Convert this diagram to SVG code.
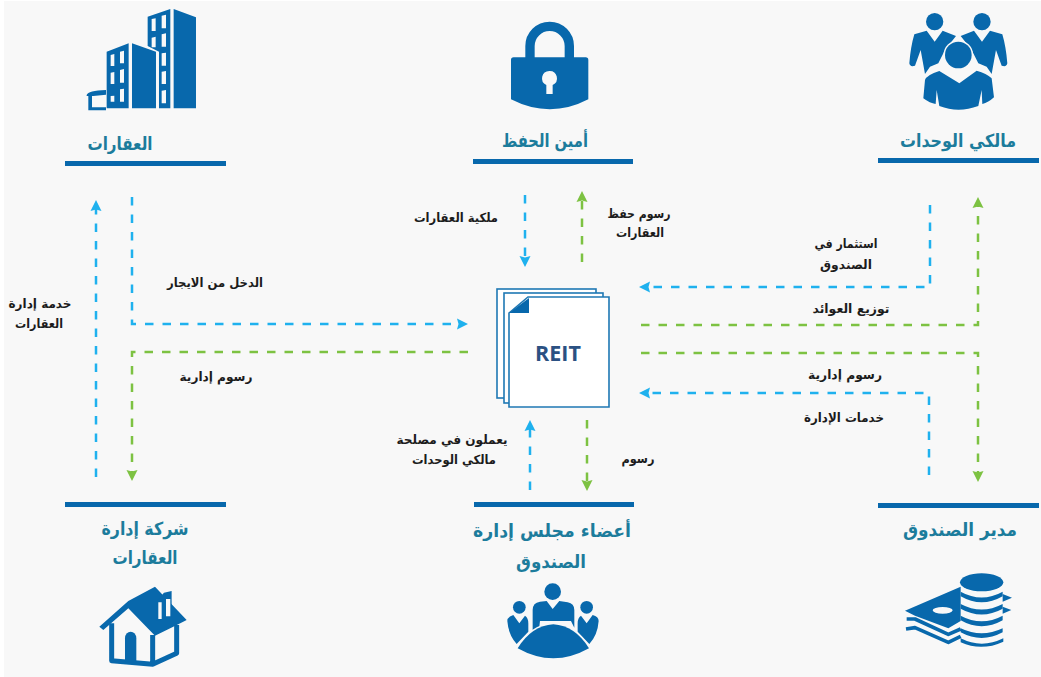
<svg xmlns="http://www.w3.org/2000/svg" width="1041" height="677" viewBox="0 0 1041 677">
<style>
.t{font-family:"DejaVu Sans","Noto Sans",sans-serif;font-weight:700;text-anchor:middle}
.title{font-size:18px;fill:#1c7c9c}
.lbl{font-size:12.5px;fill:#1c1c1c}
.bar{fill:#0868ac}
.ic{fill:#0868ac}
.cut{fill:#0868ac;stroke:#f8f8f8;stroke-width:9;paint-order:stroke}
.hole{fill:#f8f8f8}
.d{fill:none;stroke-width:2.5;stroke-dasharray:8.5 9}
.b{stroke:#1fb1ee}.g{stroke:#7dc242}
.mb{marker-end:url(#ab)}.mg{marker-end:url(#ag)}
.pg{fill:#fff;stroke:#1f78b4;stroke-width:1.6}
</style>
<defs>
<marker id="ab" markerUnits="userSpaceOnUse" markerWidth="13" markerHeight="13" refX="5" refY="6.5" orient="auto"><path d="M0,1 L11,6.5 L0,12 L1.5,6.5Z" fill="#1fb1ee"/></marker>
<marker id="ag" markerUnits="userSpaceOnUse" markerWidth="13" markerHeight="13" refX="5" refY="6.5" orient="auto"><path d="M0,1 L11,6.5 L0,12 L1.5,6.5Z" fill="#7dc242"/></marker>
</defs>
<rect width="1041" height="677" fill="#fff"/>
<rect x="4" y="1" width="1037" height="676" fill="#f8f8f8"/>

<g id="connectors">
<path class="d b mb" d="M96,477 V206"/>
<path class="d b mb" d="M132,197 V324 H462"/>
<path class="d g mg" d="M468,352 H132 V475"/>
<path class="d b mb" d="M525,195 V261"/>
<path class="d g mg" d="M582,262 V197"/>
<path class="d b mb" d="M530,490 V426"/>
<path class="d g mg" d="M587,420 V485"/>
<path class="d b mb" d="M930,205 V287 H645"/>
<path class="d g mg" d="M641,325 H978 V203"/>
<path class="d g mg" d="M641,353 H978 V476"/>
<path class="d b mb" d="M929,475 V393 H645"/>
</g>

<g id="reit">
<rect class="pg" x="497" y="289" width="99" height="109"/>
<rect class="pg" x="504" y="293" width="99" height="110"/>
<path class="pg" d="M528,297 H609 V407 H509 V313Z"/>
<path d="M509,313 L529,298 V313Z" fill="#0868ac"/>
<text x="558" y="361" font-family="'Open Sans',sans-serif" font-weight="700" font-size="21.5" fill="#2b5183" text-anchor="middle">REIT</text>
</g>

<g id="properties">
<g transform="translate(60,0) scale(.3333)">
<path class="ic" d="M341,27 L408,52 V325 H341Z M216,130 L288,155 V325 H216Z"/>
<path class="ic" fill-rule="evenodd" d="M263,50 L331,27 V325 H297 V155 L263,138Z M275,57 V93 H287 V55Z M305,47 V85 H318 V44Z M275,113 V142 H287 V110Z M305,103 V140 H318 V100Z M305,160 V197 H318 V158Z M305,215 V252 H318 V213Z M305,272 V310 H318 V270Z"/>
<path class="ic" fill-rule="evenodd" d="M140,155 L206,130 V325 H140Z M152,165 V198 H163 V162Z M180,155 V190 H192 V152Z M152,218 V252 H163 V216Z M180,210 V248 H192 V207Z M152,288 V305 H163 V287Z M180,268 V305 H192 V266Z"/>
<path class="ic" d="M80,285 Q84,272 138,270 V284 L100,288 H96 V322 H138 V331 H85 V288 L80,288Z"/>
</g>
<text class="t title" x="120" y="150" textLength="65" lengthAdjust="spacingAndGlyphs">العقارات</text>
<rect class="bar" x="65" y="161" width="161" height="5"/>
</g>

<g id="custodian">
<g transform="translate(470,10) scale(.3333)">
<path d="M180,150 V108 A59,59 0 0 1 298,108 V150" fill="none" stroke="#0868ac" stroke-width="28"/>
<path class="ic" fill-rule="evenodd" d="M123,150 Q123,142 131,142 H347 Q355,142 355,150 V268 Q240,328 123,268Z M238,183 A22,22 0 0 0 229,225 V252 H248 V225 A22,22 0 0 0 238,183Z"/>
</g>
<text class="t title" x="545" y="147" textLength="86" lengthAdjust="spacingAndGlyphs">أمين الحفظ</text>
<rect class="bar" x="473" y="159" width="160" height="5"/>
</g>

<g id="unitholders">
<g transform="translate(870,0) scale(.3333)">
<circle class="ic" cx="194" cy="65" r="26"/>
<circle class="ic" cx="336" cy="65" r="26"/>
<path class="ic" d="M133,103 L170,92 L194,125 L218,92 L258,108 L225,150 L205,190 L180,200 L165,222 L152,150 L135,197 Q120,202 118,190 Q122,140 133,103Z"/>
<path class="ic" d="M397,103 L360,92 L336,125 L312,92 L272,108 L305,150 L325,190 L350,200 L365,222 L378,150 L395,197 Q410,202 412,190 Q408,140 397,103Z"/>
<path class="cut" d="M208,213 Q170,225 165,240 L160,295 Q180,310 197,312 L200,270 L208,318 Q265,340 325,318 L335,270 L337,312 Q355,308 372,292 L365,235 Q350,220 320,212 L268,250Z"/>
<circle class="cut" cx="265" cy="165" r="40"/>
</g>
<text class="t title" x="958" y="147" textLength="116" lengthAdjust="spacingAndGlyphs">مالكي الوحدات</text>
<rect class="bar" x="878" y="158" width="161" height="5"/>
</g>

<g id="property-manager">
<rect class="bar" x="65" y="502" width="161" height="5"/>
<text class="t title" x="145" y="535" textLength="87" lengthAdjust="spacingAndGlyphs">شركة إدارة</text>
<text class="t title" x="145" y="564" textLength="65" lengthAdjust="spacingAndGlyphs">العقارات</text>
<g transform="translate(60,495) scale(.3333)">
<path d="M155,385 V497 L278,508 V420 M278,508 L350,475 V390" fill="none" stroke="#0868ac" stroke-width="15" stroke-linejoin="round"/>
<path class="ic" d="M195,500 V430 A17,20 0 0 1 229,430 V502Z"/>
<path class="ic" d="M118,395 L205,318 L285,275 L380,375 L355,388 L285,422 L205,340 L130,405Z"/>
<path class="ic" d="M290,318 L312,293 L335,288 V365 L290,378Z"/>
<path class="hole" d="M295,322 H305 V372 H295Z M318,312 H331 V364 H318Z"/>
</g>
</g>

<g id="board">
<rect class="bar" x="474" y="502" width="160" height="5"/>
<text class="t title" x="552" y="537" textLength="158" lengthAdjust="spacingAndGlyphs">أعضاء مجلس إدارة</text>
<text class="t title" x="551" y="568" textLength="70" lengthAdjust="spacingAndGlyphs">الصندوق</text>
<g transform="translate(465,495) scale(.3333)">
<circle class="ic" cx="263" cy="290" r="25"/>
<circle class="ic" cx="163" cy="337" r="19"/>
<circle class="ic" cx="365" cy="337" r="19"/>
<path class="ic" d="M127,378 Q127,365 145,360 L163,385 L180,362 Q190,368 190,385 V410 L155,447 Q130,420 127,378Z"/>
<path class="ic" d="M401,378 Q401,365 383,360 L365,385 L348,362 Q338,368 338,385 V410 L373,447 Q398,420 401,378Z"/>
<path class="ic" d="M203,420 V345 Q203,323 225,320 L245,318 L263,342 L283,318 L308,322 Q328,326 328,345 V398 L318,378 H225 L220,420Z"/>
<path class="cut" d="M158,460 Q200,392 265,388 Q330,392 372,460 Q265,520 158,460Z"/>
</g>
</g>

<g id="fund-manager">
<rect class="bar" x="878" y="503" width="161" height="5"/>
<text class="t title" x="960" y="536" textLength="114" lengthAdjust="spacingAndGlyphs">مدير الصندوق</text>
<g transform="translate(870,495) scale(.3333)">
<path class="ic" fill-rule="evenodd" d="M105,347 L272,275 V378 L235,400 L135,362Z M188,346 A30,10 0 0 0 248,346 A30,10 0 0 0 188,346Z"/>
<path d="M110,372 L135,372 L235,418 L272,402 M108,402 L135,398 L235,442 L272,424" fill="none" stroke="#0868ac" stroke-width="11" stroke-linejoin="round"/>
<path class="ic" d="M398,297 L426,308 L398,320Z M398,335 L424,345 L398,356Z"/>
<ellipse class="ic" cx="335" cy="262" rx="65" ry="27"/>
<path class="ic" d="M272,290 Q335,325 398,290 V304 Q335,340 272,304Z M272,327 Q335,360 398,327 V341 Q335,376 272,341Z M272,362 Q335,396 398,362 V376 Q335,412 272,376Z M272,400 Q335,430 398,400 V412 Q335,446 272,412Z M272,430 Q335,462 400,430 V440 Q335,470 272,442Z"/>
</g>
</g>

<g id="labels">
<text class="t lbl" x="456" y="222" textLength="84" lengthAdjust="spacingAndGlyphs">ملكية العقارات</text>
<text class="t lbl" x="639" y="218" textLength="63" lengthAdjust="spacingAndGlyphs">رسوم حفظ</text>
<text class="t lbl" x="640" y="237" textLength="48" lengthAdjust="spacingAndGlyphs">العقارات</text>
<text class="t lbl" x="452" y="444" textLength="111" lengthAdjust="spacingAndGlyphs">يعملون في مصلحة</text>
<text class="t lbl" x="454" y="464" textLength="84" lengthAdjust="spacingAndGlyphs">مالكي الوحدات</text>
<text class="t lbl" x="638" y="463" textLength="33" lengthAdjust="spacingAndGlyphs">رسوم</text>
<text class="t lbl" x="40" y="308" textLength="63" lengthAdjust="spacingAndGlyphs">خدمة إدارة</text>
<text class="t lbl" x="39" y="328" textLength="48" lengthAdjust="spacingAndGlyphs">العقارات</text>
<text class="t lbl" x="215" y="287" textLength="96" lengthAdjust="spacingAndGlyphs">الدخل من الايجار</text>
<text class="t lbl" x="216" y="381" textLength="73" lengthAdjust="spacingAndGlyphs">رسوم إدارية</text>
<text class="t lbl" x="846" y="248" textLength="63" lengthAdjust="spacingAndGlyphs">استثمار في</text>
<text class="t lbl" x="846" y="269" textLength="52" lengthAdjust="spacingAndGlyphs">الصندوق</text>
<text class="t lbl" x="851" y="313" textLength="77" lengthAdjust="spacingAndGlyphs">توزيع العوائد</text>
<text class="t lbl" x="845" y="379" textLength="74" lengthAdjust="spacingAndGlyphs">رسوم إدارية</text>
<text class="t lbl" x="844" y="422" textLength="80" lengthAdjust="spacingAndGlyphs">خدمات الإدارة</text>
</g>
</svg>
